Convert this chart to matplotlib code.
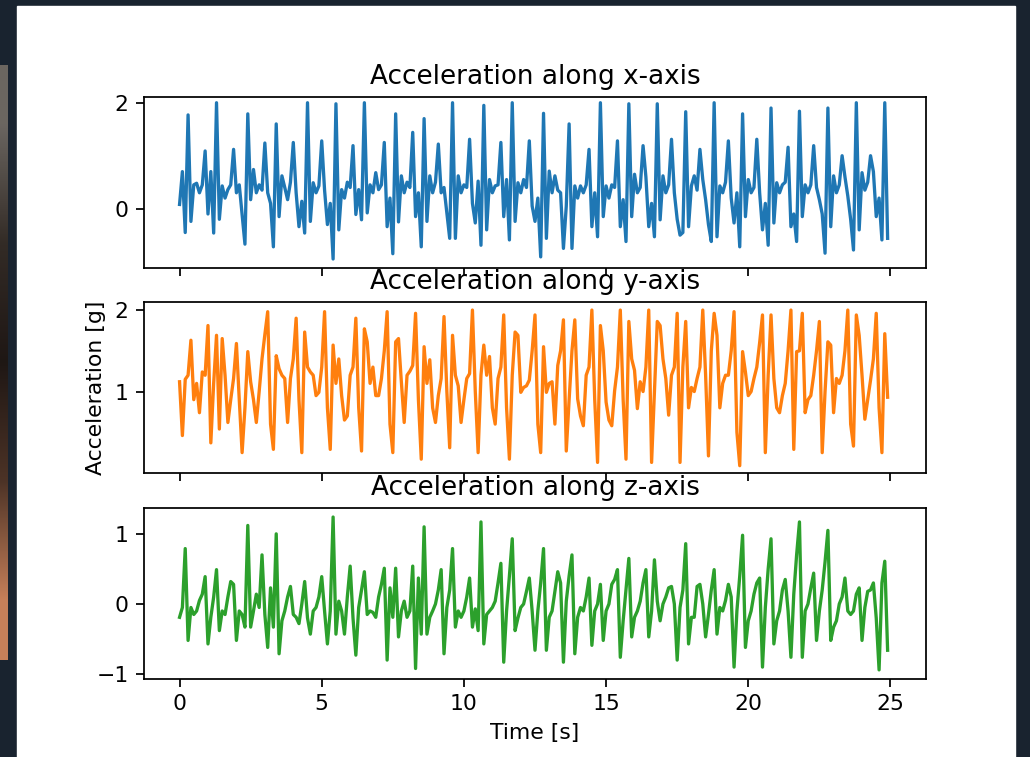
"""Accelerometer traces along the three axes, as shown in the slide screenshot."""
import matplotlib
matplotlib.use('Agg')
import matplotlib.pyplot as plt
import numpy as np
from matplotlib.patches import Rectangle

DT = 0.1  # sample spacing [s]

ACC_X = [
    0.08, 0.7, -0.45, 1.77, -0.24, 0.45, 0.48, 0.3, 0.45, 1.09,
    -0.1, 0.7, -0.46, 2.0, -0.2, 0.43, 0.2, 0.36, 0.45, 1.12,
    0.3, 0.45, -0.1, -0.67, 1.79, 0.17, 0.74, 0.3, 0.45, 0.35,
    1.24, 0.3, 0.1, -0.72, 1.6, -0.15, 0.62, 0.4, 0.17, 0.5,
    1.25, 0.3, -0.34, 0.14, -0.46, 2.0, -0.24, 0.49, 0.3, 0.43,
    1.28, 0.35, -0.3, 0.1, -0.95, 1.98, -0.4, 0.36, 0.2, 0.5,
    0.4, 1.19, -0.11, 0.36, -0.21, 2.0, -0.08, 0.45, 0.3, 0.68,
    0.36, 0.45, 1.25, -0.34, 0.2, -0.85, 1.79, -0.25, 0.62, 0.3,
    0.5, 0.4, 1.44, -0.15, 0.3, -0.72, 1.7, -0.24, 0.62, 0.3,
    0.5, 1.22, 0.3, 0.4, -0.08, -0.56, 2.0, -0.56, 0.62, 0.3,
    0.45, 0.4, 1.31, 0.1, -0.27, 0.52, -0.69, 1.95, -0.4, 0.55,
    0.3, 0.43, 0.45, 1.25, -0.15, 0.55, -0.59, 2.0, -0.24, 0.49,
    0.3, 0.55, 0.4, 1.28, 0.05, -0.24, 0.2, -0.91, 1.8, -0.56,
    0.71, 0.3, 0.62, 0.35, 0.3, -0.75, 0.05, 1.6, -0.75, 0.43,
    0.2, 0.43, 0.3, 0.45, 1.12, -0.34, 0.3, -0.53, 2.0, -0.15,
    0.43, 0.2, 0.45, 0.4, 1.28, -0.34, 0.17, -0.62, 1.98, -0.15,
    0.65, 0.3, 0.4, 1.19, 0.6, -0.34, 0.1, -0.53, 1.98, -0.21,
    0.62, 0.3, 0.45, 1.31, 0.3, -0.2, -0.5, -0.45, 1.83, -0.34,
    0.43, 0.62, 0.35, 1.12, 0.55, 0.17, -0.3, -0.62, 2.0, -0.53,
    0.43, 0.3, 0.5, 1.28, 0.2, -0.27, 0.3, -0.72, 1.79, -0.15,
    0.55, 0.3, 0.4, 1.31, 0.3, -0.4, 0.1, -0.69, 1.9, -0.27,
    0.49, 0.3, 0.45, 0.5, 1.16, -0.34, -0.1, -0.62, 1.84, -0.15,
    0.45, 0.3, 0.45, 1.19, 0.4, 0.17, -0.1, -0.84, 1.9, -0.34,
    0.62, 0.3, 0.45, 1.0, 0.6, 0.24, -0.2, -0.78, 2.0, -0.4,
    0.68, 0.35, 0.5, 1.0, 0.7, -0.15, 0.2, -0.59, 2.0, -0.56,
]

ACC_Y = [
    1.12, 0.46, 1.15, 1.2, 1.63, 0.9, 1.1, 0.74, 1.24, 1.2,
    1.81, 0.37, 1.1, 1.69, 0.54, 1.65, 1.2, 0.62, 0.9, 1.16,
    1.59, 0.9, 0.25, 0.8, 1.49, 1.12, 0.9, 0.62, 1.0, 1.4,
    1.7, 1.98, 0.6, 0.29, 1.44, 1.28, 1.2, 1.16, 0.62, 1.16,
    1.4, 1.9, 0.9, 0.25, 1.73, 1.3, 1.24, 1.2, 0.95, 0.99,
    1.3, 1.98, 0.8, 0.29, 1.57, 1.1, 1.4, 0.95, 0.65, 0.7,
    1.2, 1.3, 1.9, 0.8, 0.27, 1.77, 1.61, 1.1, 1.3, 0.95,
    0.95, 1.16, 1.5, 1.98, 0.6, 0.25, 1.61, 1.65, 1.12, 0.62,
    1.2, 1.25, 1.32, 1.96, 0.9, 0.17, 1.55, 1.1, 1.39, 0.8,
    0.62, 0.95, 1.16, 1.92, 1.0, 0.31, 1.69, 1.2, 1.07, 0.62,
    0.9, 1.16, 1.22, 2.0, 1.0, 0.25, 1.2, 1.57, 1.2, 1.43,
    0.8, 0.6, 1.16, 1.3, 1.94, 0.8, 0.17, 1.2, 1.73, 1.69,
    0.99, 1.05, 1.07, 1.14, 1.5, 1.94, 0.6, 0.25, 1.55, 0.99,
    1.1, 1.12, 0.6, 1.32, 1.5, 1.88, 0.27, 0.9, 1.5, 1.88,
    0.91, 0.7, 0.58, 1.2, 1.3, 2.0, 0.9, 0.13, 1.81, 1.5,
    0.87, 0.65, 0.58, 1.01, 1.3, 2.0, 0.9, 0.17, 1.86, 1.4,
    1.26, 0.79, 1.12, 1.0, 1.3, 2.0, 0.13, 1.0, 1.86, 1.81,
    1.4, 1.16, 0.71, 1.2, 1.3, 1.96, 0.13, 1.3, 1.86, 0.8,
    1.05, 1.0, 1.16, 1.3, 2.0, 1.2, 0.21, 1.5, 1.96, 1.69,
    0.8, 1.1, 1.2, 1.2, 1.5, 1.98, 0.5, 0.09, 1.49, 1.24,
    0.95, 1.0, 1.16, 1.3, 1.6, 1.94, 0.25, 1.2, 1.94, 1.16,
    0.8, 0.74, 0.95, 1.1, 1.5, 2.0, 0.29, 1.49, 1.5, 1.96,
    0.74, 0.9, 0.95, 1.2, 1.5, 1.86, 0.25, 1.0, 1.61, 1.57,
    0.74, 1.16, 1.1, 1.2, 1.5, 2.0, 0.6, 0.33, 1.94, 1.69,
    1.2, 0.66, 0.9, 1.14, 1.4, 1.96, 0.8, 0.25, 1.71, 0.93,
]

ACC_Z = [
    -0.19, -0.05, 0.79, -0.52, -0.05, -0.15, -0.1, 0.05, 0.14, 0.39,
    -0.57, -0.19, 0.1, 0.49, -0.38, -0.1, -0.15, 0.1, 0.32, 0.28,
    -0.52, -0.1, -0.15, -0.33, 1.12, -0.33, -0.1, 0.14, -0.05, 0.7,
    -0.15, -0.62, 0.23, -0.33, 1.0, -0.71, -0.24, -0.1, 0.1, 0.25,
    -0.15, -0.19, -0.28, 0.0, 0.32, -0.2, -0.43, -0.1, -0.05, 0.1,
    0.39, -0.1, -0.57, -0.1, 1.24, -0.43, 0.04, -0.1, -0.43, 0.1,
    0.54, -0.2, -0.73, -0.05, 0.2, 0.46, -0.15, -0.1, -0.12, -0.19,
    0.1, 0.28, 0.51, -0.8, 0.23, -0.19, 0.51, -0.47, -0.1, 0.04,
    -0.19, -0.1, 0.54, -0.92, 0.37, -0.43, 1.1, -0.43, -0.19, -0.1,
    0.0, 0.2, 0.49, -0.71, -0.05, 0.2, 0.79, -0.33, -0.1, -0.19,
    -0.1, 0.1, 0.37, -0.33, -0.07, -0.38, 1.17, -0.57, -0.15, -0.1,
    -0.05, 0.04, 0.3, 0.58, -0.83, -0.1, 0.4, 0.93, -0.38, -0.2,
    -0.05, 0.0, 0.18, 0.37, -0.1, -0.66, -0.1, 0.3, 0.79, -0.66,
    -0.19, -0.1, 0.18, 0.46, 0.3, -0.83, 0.04, 0.4, 0.7, -0.71,
    -0.19, -0.05, -0.1, 0.1, 0.37, -0.59, -0.1, 0.0, 0.28, -0.52,
    -0.1, 0.0, 0.28, 0.35, 0.49, -0.76, -0.24, 0.2, 0.65, -0.47,
    -0.19, -0.1, 0.04, 0.3, 0.49, -0.47, -0.1, 0.63, 0.04, -0.24,
    0.0, 0.1, 0.23, 0.25, 0.0, -0.8, -0.05, 0.2, 0.86, -0.57,
    -0.19, -0.19, 0.25, 0.28, 0.0, -0.47, -0.15, 0.2, 0.49, -0.43,
    -0.05, -0.1, 0.05, 0.28, 0.1, -0.9, -0.1, 0.4, 0.98, -0.62,
    -0.24, -0.1, 0.14, 0.3, 0.37, -0.9, -0.05, 0.5, 0.93, -0.57,
    -0.24, -0.1, 0.2, 0.35, -0.1, -0.76, 0.14, 0.7, 1.17, -0.76,
    -0.1, 0.0, 0.23, 0.44, -0.52, -0.1, 0.2, 0.6, 1.05, -0.52,
    -0.33, -0.24, 0.0, 0.1, 0.37, -0.1, -0.15, -0.1, 0.14, 0.23,
    -0.52, -0.05, 0.18, 0.2, 0.3, -0.2, -0.94, 0.3, 0.61, -0.66,
]

TITLES = ['Acceleration along x-axis', 'Acceleration along y-axis',
          'Acceleration along z-axis']
COLORS = ['#1f77b4', '#ff7f0e', '#2ca02c']
YLIMS = [(-1.12, 2.11), (0.0, 2.1), (-1.07, 1.37)]
YTICKS = [[0, 2], [1, 2], [-1, 0, 1]]

S = 1.577  # screenshot was the default figure blown up by this much
BG = '#19232f'

plt.rcParams.update({
    'font.size': 10 * S,
    'lines.linewidth': 1.5 * S,
    'axes.linewidth': 0.8 * S,
    'axes.titlepad': 6 * S,
    'axes.labelpad': 4 * S,
    'xtick.major.size': 3.5 * S,
    'ytick.major.size': 3.5 * S,
    'xtick.major.width': 0.8 * S,
    'ytick.major.width': 0.8 * S,
    'xtick.major.pad': 3.5 * S,
    'ytick.major.pad': 3.5 * S,
})


def main():
    fig = plt.figure(figsize=(10.30, 7.57), dpi=100, facecolor=BG)

    # white slide area behind everything, photo strip on the far left
    fig.patches.append(Rectangle((17 / 1030, 0), 998 / 1030, 751 / 757,
                                 transform=fig.transFigure, color='white',
                                 zorder=-10))
    strip = fig.add_axes([0, 1 - 660 / 757, 8 / 1030, 595 / 757])
    shade = np.array([[0.42, 0.40, 0.38], [0.20, 0.17, 0.15],
                      [0.12, 0.09, 0.08], [0.30, 0.20, 0.15],
                      [0.78, 0.50, 0.35]])
    strip.imshow(shade[:, None, :], aspect='auto', interpolation='bilinear')
    strip.axis('off')

    left, width, height = 144 / 1030, 782 / 1030, 0.226
    bottoms = [1 - 268 / 757, 1 - 473 / 757, 1 - 679 / 757]
    series = [ACC_X, ACC_Y, ACC_Z]

    axes = []
    for i, vals in enumerate(series):
        ax = fig.add_axes([left, bottoms[i], width, height])
        t = np.arange(len(vals)) * DT
        ax.plot(t, vals, color=COLORS[i])
        ax.set_title(TITLES[i])
        ax.set_ylim(*YLIMS[i])
        ax.set_yticks(YTICKS[i])
        ax.set_xlim(-1.25, 26.25)
        ax.set_xticks([0, 5, 10, 15, 20, 25])
        if i < 2:
            ax.tick_params(labelbottom=False)
        axes.append(ax)

    axes[1].set_ylabel('Acceleration [g]')
    axes[2].set_xlabel('Time [s]')

    fig.savefig('out.png', dpi=100, facecolor=BG)


if __name__ == '__main__':
    main()
